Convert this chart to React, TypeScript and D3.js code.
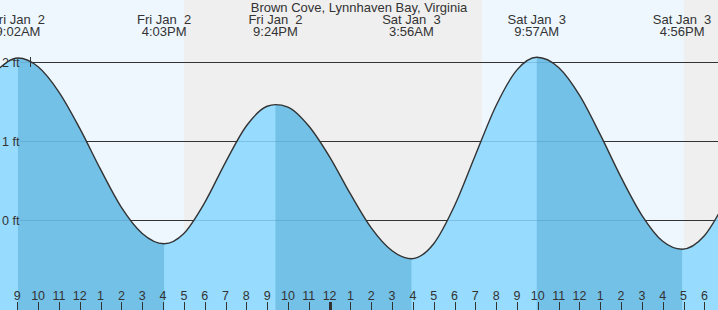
import React from "react";
import * as d3 from "d3";

const WIDTH = 718;
const HEIGHT = 310;

const TITLE = "Brown Cove, Lynnhaven Bay, Virginia";

// Hours since Fri Jan 2 00:00
const readingHours = [8, 9.033, 10, 11, 12, 13, 14, 15, 16.05, 17, 18, 19, 20, 21, 21.4, 22, 23, 24, 25, 26, 27, 27.93, 29, 30, 31, 32, 33, 33.95, 35, 36, 37, 38, 39, 40, 40.93, 42, 43];
const readingFeet = [1.89, 2.05, 1.94, 1.62, 1.16, 0.64, 0.16, -0.17, -0.3, -0.17, 0.22, 0.73, 1.19, 1.44, 1.46, 1.43, 1.19, 0.8, 0.33, -0.1, -0.39, -0.49, -0.3, 0.18, 0.82, 1.45, 1.9, 2.06, 1.93, 1.58, 1.08, 0.54, 0.06, -0.27, -0.37, -0.2, 0.23];

// Tide extremes
const extremeHours = [9.033, 16.05, 21.4, 27.93, 33.95, 40.93];
const extremeTypes = ["high", "low", "high", "low", "high", "low"];
const extremeDays = ["Fri Jan  2", "Fri Jan  2", "Fri Jan  2", "Sat Jan  3", "Sat Jan  3", "Sat Jan  3"];
const extremeTimes = ["9:02AM", "4:03PM", "9:24PM", "3:56AM", "9:57AM", "4:56PM"];

// Daylight spans (sunrise/sunset, hours)
const dayStarts = [0, 31.32];
const dayEnds = [17.0, 41.02];

const gridFeet = [2, 1, 0];
const tickHours = d3.range(9, 43);
const midnightHour = 24;

const hourLabel = (h: number) => String(h % 12 === 0 ? 12 : h % 12);

export default function App() {
  const x = d3.scaleLinear().domain([8.169, 42.655]).range([0, WIDTH]);
  const y = d3.scaleLinear().domain([0, 2]).range([220, 62]);

  const pts = readingHours.map((h, i) => [h, readingFeet[i]] as [number, number]);
  const area = d3
    .area<[number, number]>()
    .x((d) => x(d[0]))
    .y0(HEIGHT)
    .y1((d) => y(d[1]))
    .curve(d3.curveMonotoneX);
  const line = d3
    .line<[number, number]>()
    .x((d) => x(d[0]))
    .y((d) => y(d[1]))
    .curve(d3.curveMonotoneX);

  const fallSpans: [number, number][] = [];
  extremeHours.forEach((h, i) => {
    if (extremeTypes[i] === "high") {
      const end = i + 1 < extremeHours.length ? extremeHours[i + 1] : 44;
      fallSpans.push([h, end]);
    }
  });

  const font = "'Liberation Sans', Arial, sans-serif";

  return (
    <svg width={WIDTH} height={HEIGHT} style={{ display: "block" }}>
      <style>{`body{margin:0}`}</style>
      <defs>
        <clipPath id="water">
          <path d={area(pts) || ""} />
        </clipPath>
      </defs>
      <rect x={0} y={0} width={WIDTH} height={HEIGHT} fill="#efefef" />
      {dayStarts.map((s, i) => (
        <rect
          key={"day" + i}
          x={Math.max(0, x(s))}
          y={0}
          width={x(dayEnds[i]) - Math.max(0, x(s))}
          height={HEIGHT}
          fill="#eef7fe"
        />
      ))}
      {gridFeet.map((f) => (
        <line key={"g" + f} x1={20} x2={WIDTH} y1={y(f)} y2={y(f)} stroke="#333" strokeWidth={1} shapeRendering="crispEdges" />
      ))}
      <path d={area(pts) || ""} fill="#97dbfe" />
      <g clipPath="url(#water)">
        {fallSpans.map((s, i) => (
          <rect key={"f" + i} x={x(s[0])} y={0} width={x(s[1]) - x(s[0])} height={HEIGHT} fill="#73c1e6" />
        ))}
        {gridFeet.map((f) => (
          <line key={"gw" + f} x1={20} x2={WIDTH} y1={y(f)} y2={y(f)} stroke="#4a8fb8" strokeOpacity={0.35} strokeWidth={1} shapeRendering="crispEdges" />
        ))}
      </g>
      <path d={line(pts) || ""} fill="none" stroke="#333" strokeWidth={1.4} />
      <line x1={30} x2={30} y1={y(2) - 5} y2={y(2) + 5} stroke="#333" strokeWidth={1} shapeRendering="crispEdges" />
      {gridFeet.map((f) => (
        <text key={"gl" + f} x={2} y={y(f) + 4.5} fontFamily={font} fontSize={12.5} fill="#333">
          {f + " ft"}
        </text>
      ))}
      <text x={WIDTH / 2} y={12} textAnchor="middle" fontFamily={font} fontSize={13} fill="#333">
        {TITLE}
      </text>
      {extremeHours.map((h, i) => (
        <text key={"e" + i} x={x(h)} textAnchor="middle" fontFamily={font} fontSize={13} fill="#333" style={{ whiteSpace: "pre" }}>
          <tspan x={x(h)} y={24}>{extremeDays[i]}</tspan>
          <tspan x={x(h)} y={36}>{extremeTimes[i]}</tspan>
        </text>
      ))}
      {tickHours.map((h) => (
        <g key={"t" + h}>
          <line
            x1={Math.round(x(h)) + 0.5}
            x2={Math.round(x(h)) + 0.5}
            y1={302}
            y2={HEIGHT}
            stroke="#333"
            strokeWidth={h === midnightHour ? 3 : 1}
          />
          <text x={x(h)} y={300} textAnchor="middle" fontFamily={font} fontSize={12.5} fill="#333">
            {hourLabel(h)}
          </text>
        </g>
      ))}
    </svg>
  );
}
